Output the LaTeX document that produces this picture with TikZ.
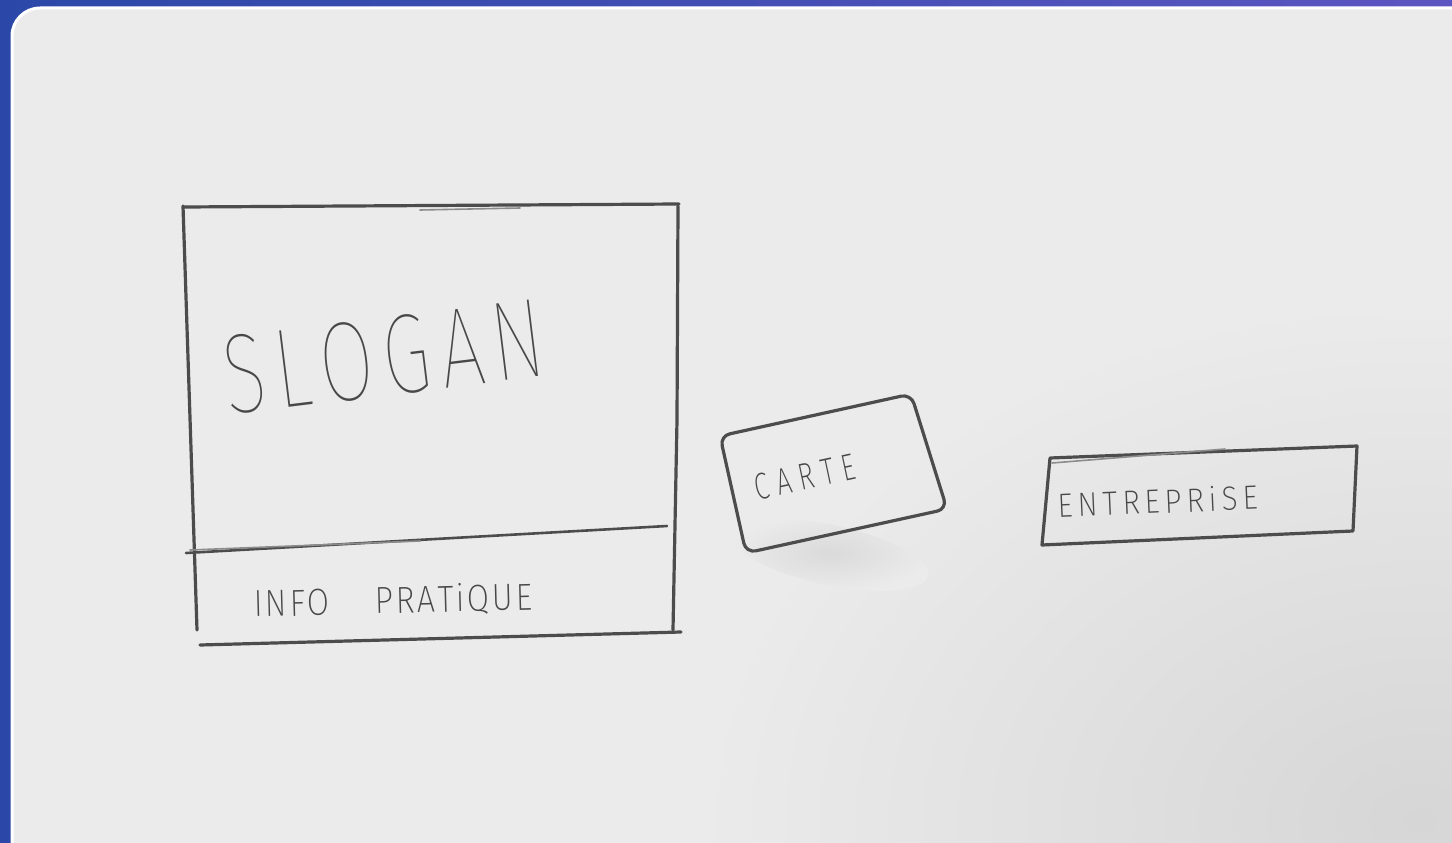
\documentclass[tikz,border=0pt]{standalone}
\usepackage{fontspec}
\newfontfamily\handthin{Fira Sans Thin}
\newfontfamily\handlight{Fira Sans ExtraLight}
\definecolor{bgL}{HTML}{2B48A8}
\definecolor{bgR}{HTML}{5C55C2}
\definecolor{paper}{HTML}{EBEBEB}
\definecolor{shadow}{HTML}{D6D6D6}
\definecolor{smudge}{HTML}{DADADA}
\definecolor{pen}{HTML}{4C4C4C}
\definecolor{ink}{HTML}{484848}
\tikzset{
  pencil/.style={draw=pen, line width=3.2pt, line cap=round, line join=round},
  pencilthin/.style={draw=pen!60!paper, line width=1.6pt, line cap=round},
  txt/.style={inner sep=0pt, text=ink},
}
\begin{document}
\begin{tikzpicture}[x=1pt,y=-1pt]
\useasboundingbox (0,0) rectangle (1452,843);
% background frame
\shade[left color=bgL, right color=bgR] (0,0) rectangle (1452,843);
% paper
\begin{scope}
  \clip[rounded corners=28pt] (12,8) rectangle (1490,890);
  \fill[paper] (0,0) rectangle (1452,843);
  \shade[inner color=shadow, outer color=paper] (1420,820) ellipse (720pt and 520pt);
  \shade[inner color=smudge, outer color=paper, rotate around={-12:(830,555)}] (830,555) ellipse (100pt and 30pt);
\end{scope}
\draw[white, line width=3pt, rounded corners=28pt] (12,8) rectangle (1490,890);

% main box
\draw[pencil] (184,207) -- (679,204);
\draw[pencilthin] (420,210) -- (520,208);
\draw[pencil] (183,206) -- (197,630);
\draw[pencil] (678,206) -- (677,420) -- (673,630);
\draw[pencil] (200,645) -- (681,632);
\draw[pencil, line width=2.6pt] (186,553) -- (667,526);
\draw[pencilthin] (190,550) -- (420,541);

\node[txt, rotate=7] (slogan) at (384,357)
  {\resizebox{322pt}{78pt}{\handthin S\kern.12em L\kern.12em O\kern.12em G\kern.12em A\kern.12em N}};
\node[txt, rotate=1.5] (info) at (393,601)
  {\resizebox{278pt}{28pt}{\handlight I\kern.08em N\kern.08em F\kern.08em O\hspace{1.4em}P\kern.08em R\kern.08em A\kern.08em T\kern.08em i\kern.08em Q\kern.08em U\kern.08em E}};

% carte box
\draw[pencil, rounded corners=10pt] (720,436) -- (911,394) -- (947,509) -- (746,553) -- cycle;
\node[txt, rotate=12] (carte) at (805,477)
  {\resizebox{102pt}{26pt}{\handlight C\kern.3em A\kern.3em R\kern.3em T\kern.3em E}};

% entreprise box
\draw[pencil] (1050,458) -- (1357,446) -- (1353,531) -- (1042,545) -- cycle;
\draw[pencilthin] (1052,463) -- (1225,449);
\node[txt, rotate=2.5] (entreprise) at (1158,501)
  {\resizebox{200pt}{25pt}{\handlight E\,N\,T\,R\,E\,P\,R\,i\,S\,E}};
\end{tikzpicture}
\end{document}
